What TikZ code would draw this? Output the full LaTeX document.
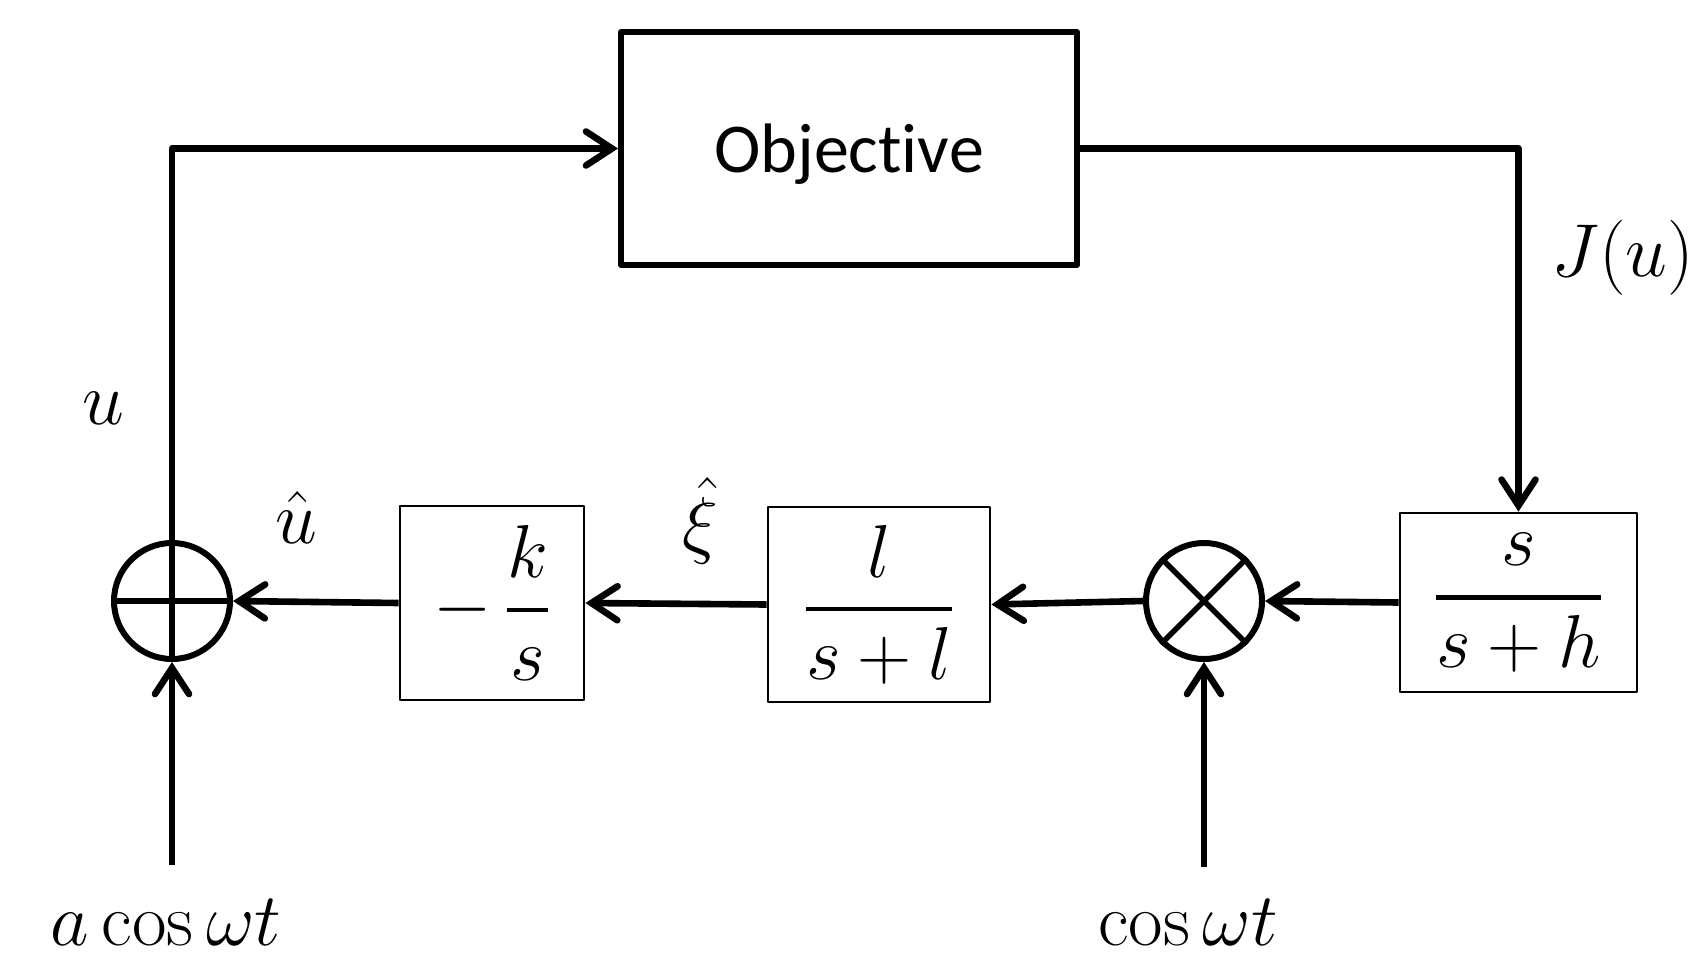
\RequirePackage{fix-cm}
\documentclass[tikz,border=0pt]{standalone}
\usepackage[no-math]{fontspec}
\newfontfamily\objfont[Ligatures=NoCommon]{Carlito}
\usetikzlibrary{arrows.meta}
\newcommand{\thickfrac}[2]{{\displaystyle{#1}\above 2.4pt\displaystyle{#2}}}
\begin{document}
\begin{tikzpicture}[x=0.5pt,y=-0.5pt,
  line join=round,
  mathtxt/.style={font=\fontsize{37.5}{45}\selectfont, inner sep=0pt},
  arr/.style={line width=3.3pt, -{Straight Barb[length=13pt,width=17pt,line width=3.3pt,line cap=round]}},
  tfbox/.style={draw, line width=1.4pt, inner sep=0pt, font=\fontsize{37.5}{45}\selectfont},
  junction/.style={draw, circle, line width=3pt, minimum size=58pt, inner sep=0pt},
  objbox/.style={draw, line width=3pt, inner sep=0pt, text depth=0pt, minimum width=228pt, minimum height=116.5pt, font=\objfont\fontsize{35}{42}\selectfont}
]
\useasboundingbox (0,0) rectangle (1700,959);

% blocks
\node[objbox] (obj) at (849,148.5) {Objective};
\node[tfbox, minimum width=92pt, minimum height=97pt] (kbox) at (492,603) {$\displaystyle -\,\thickfrac{k}{s}$};
\node[tfbox, minimum width=111pt, minimum height=97.5pt] (lbox) at (879,604.5) {$\displaystyle \thickfrac{l}{s+l}$};
\node[tfbox, minimum width=118.5pt, minimum height=89.5pt] (hbox) at (1518.5,602.5) {$\displaystyle \thickfrac{s}{s+h}$};

% junctions
\node[junction] (sum) at (172,601) {};
\node[junction] (mult) at (1204,601) {};
\draw[line width=2.8pt] (sum.west) -- (sum.east) (sum.north) -- (sum.south);
\draw[line width=2.8pt] (mult.45) -- (mult.225) (mult.135) -- (mult.315);

% inputs
\coordinate (ain) at (172,865);
\coordinate (cin) at (1204,867);
\node[mathtxt, anchor=base] (alab) at (166,945) {$a\cos\omega t$};
\node[mathtxt, anchor=base] (clab) at (1188,945) {$\cos\omega t$};

% labels
\node[mathtxt] (ulab) at (103,408) {$u$};
\node[mathtxt] (uhlab) at (296,517) {$\hat{u}$};
\node[mathtxt] (xilab) at (700,521) {$\hat{\xi}$};
\node[mathtxt] (jlab) at (1623,258) {$J(u)$};

% connectors
\draw[arr] (sum.north) -- (sum.north |- obj.west) -- (obj.west);
\draw[arr] (obj.east) -- (obj.east -| hbox.north) -- (hbox.north);
\draw[arr] (hbox.west) -- (mult.east);
\draw[arr] (mult.west) -- (lbox.east);
\draw[arr] (lbox.west) -- (kbox.east);
\draw[arr] (kbox.west) -- (sum.east);
\draw[arr] (ain) -- (sum.south);
\draw[arr] (cin) -- (mult.south);
\end{tikzpicture}
\end{document}
